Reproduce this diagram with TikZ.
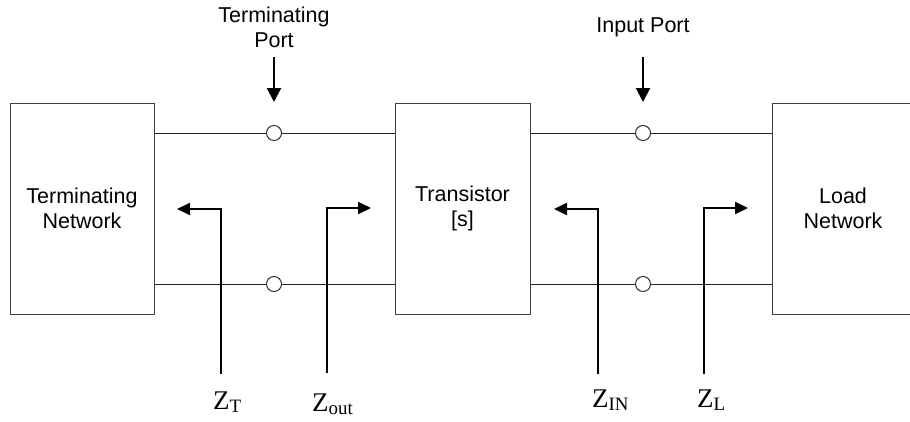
\documentclass[tikz,border=0pt]{standalone}
\usepackage{fontspec}
\setmainfont{Liberation Sans}
\newfontfamily\zfont{Liberation Serif}
\usetikzlibrary{arrows.meta}
\begin{document}
\begin{tikzpicture}[x=1pt,y=-1pt,
  box/.style={draw=black!75, line width=1pt, minimum height=211pt, align=center, inner sep=0pt,
              font=\fontsize{21.5}{25}\selectfont},
  lab/.style={align=center, inner sep=0pt, font=\fontsize{21.5}{25}\selectfont},
  port/.style={circle, draw=black!80, line width=1pt, fill=white, minimum size=15pt, inner sep=0pt},
  wire/.style={draw=black!85, line width=1pt},
  portarrow/.style={line width=2pt, -{Triangle[length=14pt,width=14pt]}},
  larrow/.style={line width=2pt, line join=miter, -{Triangle[length=13pt,width=12pt]}},
  zlab/.style={inner sep=0pt, anchor=base west, font=\zfont\fontsize{27}{30}\selectfont}]
\useasboundingbox (0,0) rectangle (910,421);
\clip (0,0) rectangle (910,421);
% boxes
\node[box, minimum width=144pt] (tn) at (82,208.5) {Terminating\\Network};
\node[box, minimum width=135pt] (tr) at (462.5,208.5) {Transistor\\{[s]}};
\node[box, minimum width=142pt] (ld) at (843,208.5) {Load\\Network};
% ports
\node[port] (p1) at (274,133) {};
\node[port] (p2) at (274,284) {};
\node[port] (p3) at (643,133) {};
\node[port] (p4) at (643,284) {};
% wires
\draw[wire] (tn.east |- p1) -- (p1.west);
\draw[wire] (p1.east) -- (tr.west |- p1);
\draw[wire] (tn.east |- p2) -- (p2.west);
\draw[wire] (p2.east) -- (tr.west |- p2);
\draw[wire] (tr.east |- p3) -- (p3.west);
\draw[wire] (p3.east) -- (ld.west |- p3);
\draw[wire] (tr.east |- p4) -- (p4.west);
\draw[wire] (p4.east) -- (ld.west |- p4);
% port labels and arrows
\node[lab] (tpl) at (274,27.5) {Terminating\\Port};
\node[lab] (ipl) at (643,27) {Input Port};
\coordinate (a1s) at (274,57);
\coordinate (a1e) at (274,102);
\coordinate (a2s) at (643,57);
\coordinate (a2e) at (643,102);
\draw[portarrow] (a1s) -- (a1e);
\draw[portarrow] (a2s) -- (a2e);
% impedance arrows
\coordinate (zt0) at (221,374);  \coordinate (zt1) at (177,209);
\coordinate (zo0) at (327,373);  \coordinate (zo1) at (371,208);
\coordinate (zi0) at (598,374);  \coordinate (zi1) at (554,209);
\coordinate (zl0) at (704,374);  \coordinate (zl1) at (748,208);
\draw[larrow] (zt0) |- (zt1);
\draw[larrow] (zo0) |- (zo1);
\draw[larrow] (zi0) |- (zi1);
\draw[larrow] (zl0) |- (zl1);
% impedance labels
\node[zlab] (zt) at (213,409) {Z\textsubscript{T}};
\node[zlab] (zo) at (312,411) {Z\textsubscript{out}};
\node[zlab] (zi) at (592,407) {Z\textsubscript{IN}};
\node[zlab] (zl) at (697,407) {Z\textsubscript{L}};
\end{tikzpicture}
\end{document}
